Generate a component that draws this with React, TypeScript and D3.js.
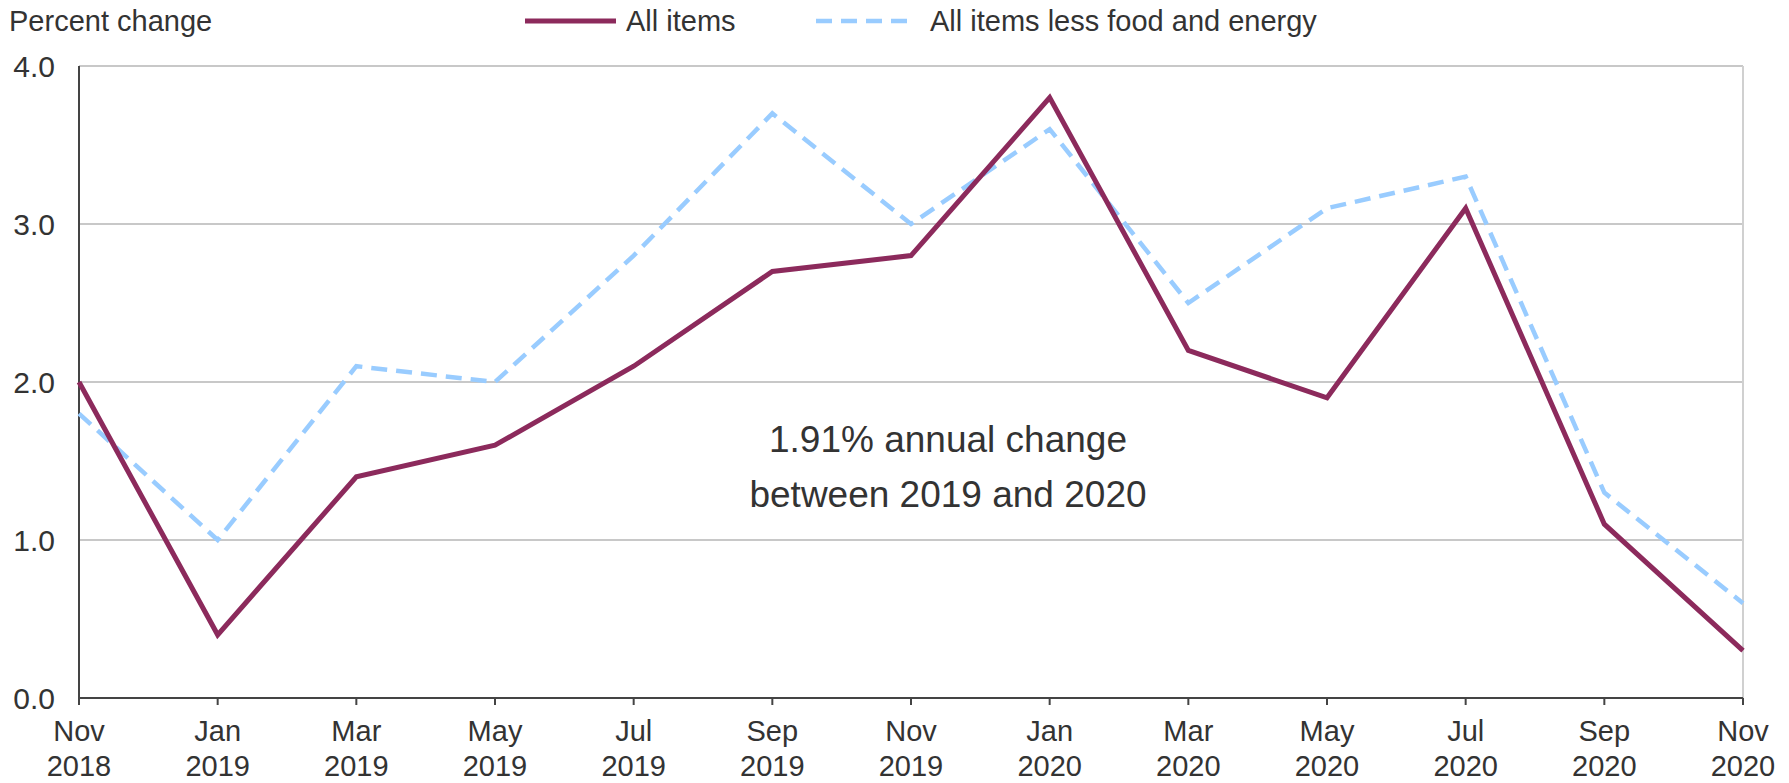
import React from "react";
import * as d3 from "d3";

const months = ["Nov", "Jan", "Mar", "May", "Jul", "Sep", "Nov", "Jan", "Mar", "May", "Jul", "Sep", "Nov"];
const years = ["2018", "2019", "2019", "2019", "2019", "2019", "2019", "2020", "2020", "2020", "2020", "2020", "2020"];
const allItems = [2.0, 0.4, 1.4, 1.6, 2.1, 2.7, 2.8, 3.8, 2.2, 1.9, 3.1, 1.1, 0.3];
const coreItems = [1.8, 1.0, 2.1, 2.0, 2.8, 3.7, 3.0, 3.6, 2.5, 3.1, 3.3, 1.3, 0.6];
const yTicks = [0, 1, 2, 3, 4];

const W = 1789, H = 783;
const left = 79, right = 1743, top = 66, bottom = 698;
const FONT = "'Liberation Sans', Arial, sans-serif";

export default function App() {
  const x = d3.scaleLinear().domain([0, months.length - 1]).range([left, right]);
  const y = d3.scaleLinear().domain([0, 4]).range([bottom, top]);
  const line = d3.line<number>().x((_, i) => x(i)).y((d) => y(d));

  return (
    <svg width={W} height={H} style={{ position: "absolute", left: 0, top: 0, background: "#fff" }}>
      {yTicks.map((t) => (
        <g key={t}>
          {t > 0 && <line x1={left} x2={right} y1={y(t)} y2={y(t)} stroke="#c8c8c8" strokeWidth={2} />}
          <text x={55} y={y(t)} dy="0.36em" textAnchor="end" fontFamily={FONT} fontSize={30} fill="#333">
            {t.toFixed(1)}
          </text>
        </g>
      ))}
      <line x1={right} x2={right} y1={top} y2={bottom} stroke="#d0d0d0" strokeWidth={2} />
      <line x1={left} x2={left} y1={top} y2={bottom} stroke="#444" strokeWidth={2} />
      <line x1={left} x2={right} y1={bottom} y2={bottom} stroke="#444" strokeWidth={2} />
      {months.map((m, i) => (
        <g key={i}>
          <line x1={x(i)} x2={x(i)} y1={bottom} y2={bottom + 7} stroke="#444" strokeWidth={2} />
          <text x={x(i)} y={741} textAnchor="middle" fontFamily={FONT} fontSize={29} fill="#333">{m}</text>
          <text x={x(i)} y={776} textAnchor="middle" fontFamily={FONT} fontSize={29} fill="#333">{years[i]}</text>
        </g>
      ))}
      <path d={line(coreItems) || ""} fill="none" stroke="#99ccff" strokeWidth={4.5} strokeDasharray="16 9" />
      <path d={line(allItems) || ""} fill="none" stroke="#8c2a5c" strokeWidth={5} strokeLinejoin="miter" />
      <text x={9} y={31} fontFamily={FONT} fontSize={29} fill="#333">Percent change</text>
      <line x1={525} x2={616} y1={21} y2={21} stroke="#8c2a5c" strokeWidth={5} />
      <text x={626} y={31} fontFamily={FONT} fontSize={29} fill="#333">All items</text>
      <line x1={816} x2={913} y1={21} y2={21} stroke="#99ccff" strokeWidth={4.5} strokeDasharray="16 9" />
      <text x={930} y={31} fontFamily={FONT} fontSize={29} fill="#333">All items less food and energy</text>
      <text x={948} y={452} textAnchor="middle" fontFamily={FONT} fontSize={37} fill="#333">1.91% annual change</text>
      <text x={948} y={507} textAnchor="middle" fontFamily={FONT} fontSize={37} fill="#333">between 2019 and 2020</text>
    </svg>
  );
}
